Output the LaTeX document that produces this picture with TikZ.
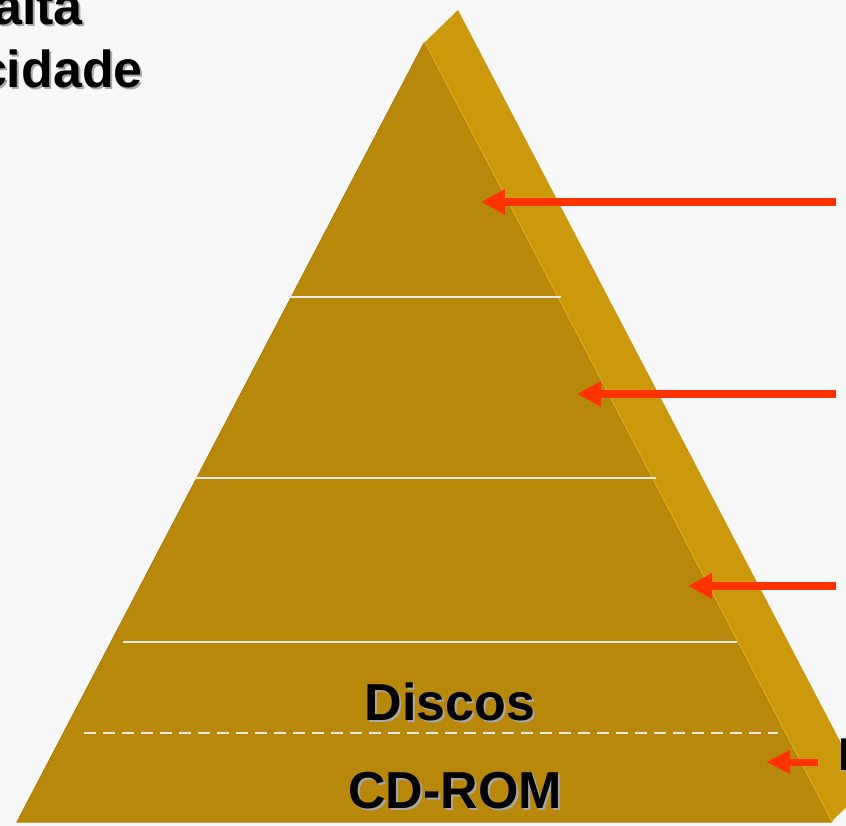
\documentclass[tikz,border=0pt]{standalone}
\usepackage{fontspec}
\setmainfont{Liberation Sans}
\usetikzlibrary{arrows.meta}
\definecolor{bg}{HTML}{F8F8F8}
\definecolor{frontface}{HTML}{B8880A}
\definecolor{frontedge}{HTML}{AE8008}
\definecolor{sideface}{HTML}{CC980C}
\definecolor{sideedge}{HTML}{D8A418}
\definecolor{levelline}{HTML}{E8E8E8}
\definecolor{pointer}{HTML}{FF3300}
\definecolor{textshadow}{HTML}{A8A8A8}
\tikzset{
  bigtext/.style={font=\bfseries\fontsize{52}{60}\selectfont, inner sep=0pt},
  smalltext/.style={font=\bfseries\fontsize{46}{54}\selectfont, inner sep=0pt},
  level/.style={draw=levelline, line width=2pt},
  sublevel/.style={draw=levelline, line width=2pt, dash pattern=on 12pt off 7pt},
  pointerarrow/.style={draw=pointer, line width=8pt,
    -{Triangle[length=24pt, width=24pt]}},
  shadowed/.style={text=black}
}
% text with a soft grey drop shadow
\newcommand{\shadowtext}[5]{%
  \node[#1, text=textshadow, anchor=#3] at ($(#2)+(2,2)$) {#5};
  \node[#1, text=black, anchor=#3] (#4) at (#2) {#5};
}
\usetikzlibrary{calc}
\begin{document}
\begin{tikzpicture}[x=1pt, y=-1pt]
  \useasboundingbox (0,0) rectangle (846,826);
  \clip (0,0) rectangle (846,826);
  \fill[bg] (0,0) rectangle (846,826);

  % pyramid corners
  \coordinate (apex) at (424,43);
  \coordinate (baseL) at (17,822);
  \coordinate (baseR) at (831,822);
  \coordinate (backapex) at (458,10);
  \coordinate (backbase) at (865,789);

  % side face
  \fill[sideface] (apex) -- (backapex) -- (backbase) -- (baseR) -- cycle;
  % front face
  \filldraw[fill=frontface, draw=frontedge, line width=1pt] (apex) -- (baseR) -- (baseL) -- cycle;
  \draw[sideedge, line width=1.5pt] ($(apex)+(1.2,0)$) -- ($(baseR)+(1.2,0)$);

  % level dividers
  \coordinate (l1a) at (288,297); \coordinate (l1b) at (561,297);
  \coordinate (l2a) at (194,478); \coordinate (l2b) at (656,478);
  \coordinate (l3a) at (123,642); \coordinate (l3b) at (737,642);
  \coordinate (l4a) at (84,733);  \coordinate (l4b) at (778,733);
  \draw[level] (l1a) -- (l1b);
  \draw[level] (l2a) -- (l2b);
  \draw[level] (l3a) -- (l3b);
  \draw[sublevel] (l4a) -- (l4b);

  % labels
  \shadowtext{bigtext}{450,720}{base}{discos}{Discos}
  \shadowtext{bigtext}{455,808}{base}{cdrom}{CD-ROM}
  \shadowtext{bigtext}{143,88}{base east}{capacity}{cidade}
  \shadowtext{bigtext}{83,25}{base east}{high}{alta}
  \shadowtext{smalltext}{838,770}{base west}{plabel}{P}

  % pointers
  \coordinate (p1s) at (836,202); \coordinate (p1e) at (481,202);
  \coordinate (p2s) at (836,394); \coordinate (p2e) at (577,394);
  \coordinate (p3s) at (836,586); \coordinate (p3e) at (688,586);
  \coordinate (p4s) at (818,762); \coordinate (p4e) at (766,762);
  \draw[pointerarrow] (p1s) -- (p1e);
  \draw[pointerarrow] (p2s) -- (p2e);
  \draw[pointerarrow] (p3s) -- (p3e);
  \draw[pointerarrow, -{Triangle[length=24pt, width=22pt]}, line width=7pt] (p4s) -- (p4e);
\end{tikzpicture}
\end{document}
